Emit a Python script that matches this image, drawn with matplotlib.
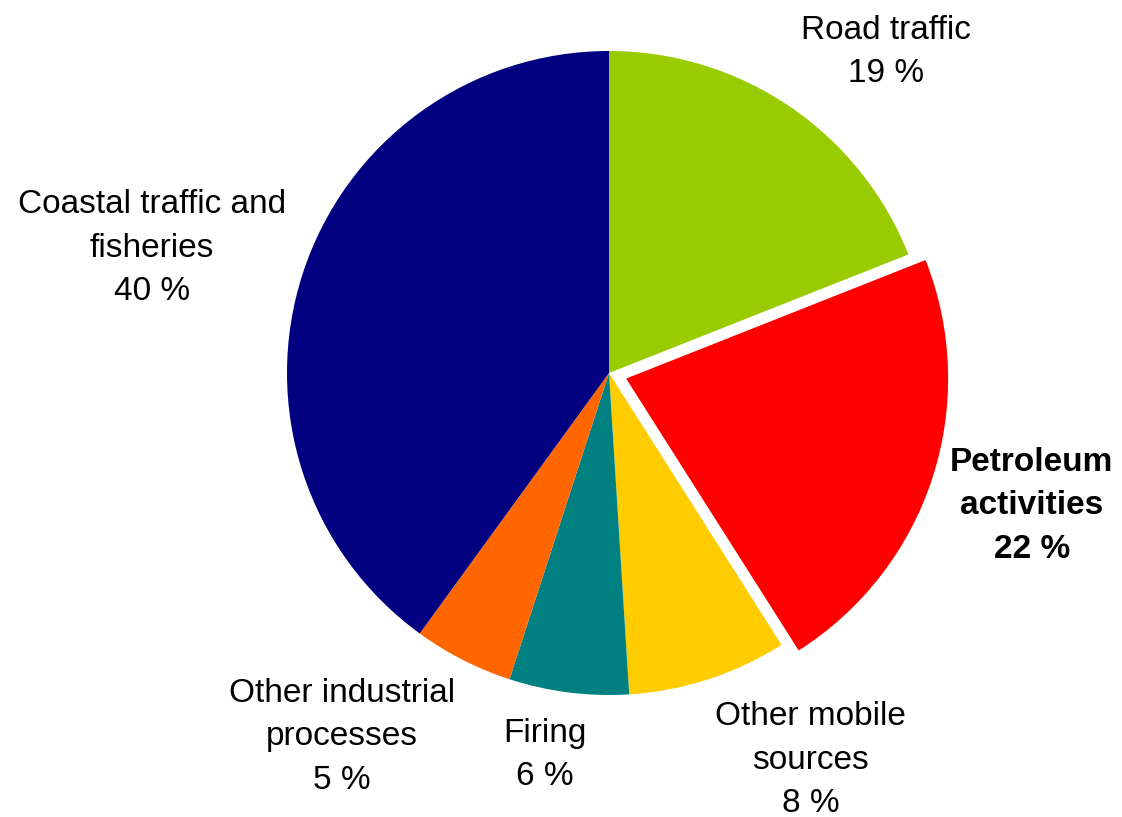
import matplotlib.pyplot as plt

plt.rcParams['font.family'] = ['Liberation Sans', 'DejaVu Sans']

labels = ['Road traffic', 'Petroleum\nactivities', 'Other mobile\nsources',
          'Firing', 'Other industrial\nprocesses', 'Coastal traffic and\nfisheries']
values = [19, 22, 8, 6, 5, 40]
colors = ['#99CC00', '#FF0000', '#FFCC00', '#008080', '#FF6600', '#000080']
explode = [0, 0.056, 0, 0, 0, 0]
bold = [False, True, False, False, False, False]

# label centres in pie-radius units
label_pos = [(0.860, 0.997), (1.313, -0.413), (0.627, -1.202),
             (-0.199, -1.186), (-0.829, -1.130), (-1.419, 0.388)]

fig = plt.figure(figsize=(11.22, 8.17), dpi=100)
ax = fig.add_axes([0, 0, 1, 1])

ax.pie(values, colors=colors, explode=explode, startangle=90,
       counterclock=False, radius=1.0, center=(0, 0), frame=False)

for lab, v, (x, y), b in zip(labels, values, label_pos, bold):
    ax.text(x, y, f'{lab}\n{v} %', ha='center', va='center', fontsize=24,
            linespacing=1.52, fontweight='bold' if b else 'normal')

ax.set_aspect('auto')
ax.set_xlim(-609 / 322, (1122 - 609) / 322)
ax.set_ylim(-(817 - 373) / 322, 373 / 322)
ax.axis('off')

fig.savefig('out.png', dpi=100)
